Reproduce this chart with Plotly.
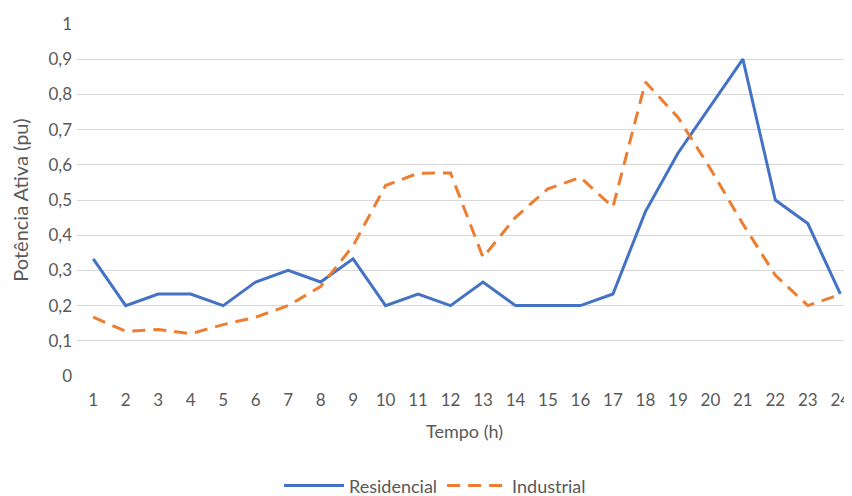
import plotly.graph_objects as go

hours = list(range(1, 25))
residencial = [0.333, 0.2, 0.233, 0.233, 0.2, 0.267, 0.3, 0.267, 0.333, 0.2, 0.233, 0.2,
               0.267, 0.2, 0.2, 0.2, 0.233, 0.467, 0.633, 0.767, 0.9, 0.5, 0.433, 0.233]
industrial = [0.167, 0.127, 0.132, 0.12, 0.146, 0.167, 0.2, 0.254, 0.37, 0.541, 0.576, 0.577,
              0.337, 0.451, 0.532, 0.564, 0.48, 0.835, 0.735, 0.589, 0.432, 0.286, 0.2, 0.232]
y_ticks = [0, 0.1, 0.2, 0.3, 0.4, 0.5, 0.6, 0.7, 0.8, 0.9, 1]

font = "Lato, 'Open Sans', sans-serif"
grey = "#595959"

fig = go.Figure()
fig.add_trace(go.Scatter(x=hours, y=residencial, mode="lines", name="Residencial",
                         line=dict(color="#4472C4", width=3)))
fig.add_trace(go.Scatter(x=hours, y=industrial, mode="lines", name="Industrial",
                         line=dict(color="#ED7D31", width=3, dash="13px,8px")))

fig.update_layout(
    width=844, height=488,
    margin=dict(l=69, r=0, t=16, b=120, autoexpand=False),
    paper_bgcolor="white", plot_bgcolor="white",
    separators=",.",
    font=dict(family=font, size=17, color=grey),
    showlegend=True,
    legend=dict(orientation="h", x=0.462, xanchor="center", y=-0.312, yanchor="middle",
                font=dict(size=18, color=grey), itemwidth=60),
)
fig.update_xaxes(range=[0.5, 24.36], tickmode="array", tickvals=hours, ticktext=[str(h) for h in hours],
                 showgrid=False, zeroline=False, showline=False, ticks="", automargin=False,
                 ticklabelstandoff=12, ticklabeloverflow="allow",
                 tickfont=dict(size=17, color=grey),
                 title=dict(text="Tempo (h)", font=dict(size=18, color=grey), standoff=16))
fig.update_yaxes(range=[0, 1], tickmode="array", tickvals=y_ticks,
                 showgrid=True, gridcolor="#D9D9D9", gridwidth=1, zeroline=False, showline=False,
                 ticks="", ticklabelstandoff=4, automargin=False,
                 tickfont=dict(size=17, color=grey),
                 title=dict(text="Potência Ativa (pu)", font=dict(size=20, color=grey), standoff=17))

fig.write_html("out.html")
